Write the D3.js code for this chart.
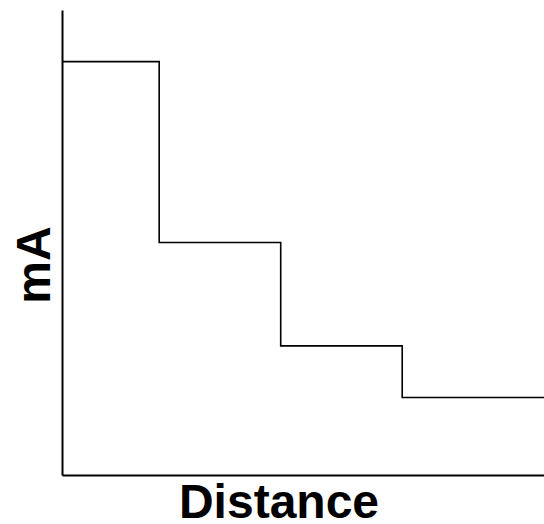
<!DOCTYPE html>
<html>
<head>
<meta charset="utf-8">
<script src="https://cdn.jsdelivr.net/npm/d3@7"></script>
<style>
  html, body { margin: 0; padding: 0; background: #fff; }
  svg { display: block; }
</style>
</head>
<body>
<div id="chart"></div>
<script>
/* Step positions along the distance axis and the current level of each step */
const distance = [0, 0.8, 1.8, 2.8, 4];
const current = [8, 4.5, 2.5, 1.5, 1.5];

const width = 544
const height = 524
const margin = { top: 10, right: 0, bottom: 49, left: 62 }

const svg = d3.select('#chart')
  .append('svg')
  .attr('width', width)
  .attr('height', height)

const x = d3.scaleLinear()
  .domain([0, 3.967])
  .range([margin.left, width - margin.right])

const y = d3.scaleLinear()
  .domain([0, 9])
  .range([height - margin.bottom, margin.top])

const data = distance.map((d, i) => ({ x: d, y: current[i] }))

// step trace
const line = d3.line()
  .x(d => x(d.x))
  .y(d => y(d.y))
  .curve(d3.curveStepAfter)

svg.append('path')
  .datum(data)
  .attr('d', line)
  .attr('fill', 'none')
  .attr('stroke', '#000')
  .attr('stroke-width', 1.6)

// bare axes, no ticks
svg.append('g')
  .attr('transform', `translate(0, ${y(0)})`)
  .call(d3.axisBottom(x).tickValues([]).tickSizeOuter(0))
  .call(g => g.select('.domain').attr('stroke-width', 2))

svg.append('g')
  .attr('transform', `translate(${x(0)}, 0)`)
  .call(d3.axisLeft(y).tickValues([]).tickSizeOuter(0))
  .call(g => g.select('.domain').attr('stroke-width', 2))

const labelFont = '"Liberation Sans", Arial, sans-serif'

svg.append('text')
  .attr('x', 279)
  .attr('y', 518)
  .attr('text-anchor', 'middle')
  .attr('font-family', labelFont)
  .attr('font-weight', 'bold')
  .attr('font-size', 48)
  .text('Distance')

svg.append('text')
  .attr('transform', 'translate(50, 265) rotate(-90)')
  .attr('text-anchor', 'middle')
  .attr('font-family', labelFont)
  .attr('font-weight', 'bold')
  .attr('font-size', 48)
  .text('mA')
</script>
</body>
</html>
